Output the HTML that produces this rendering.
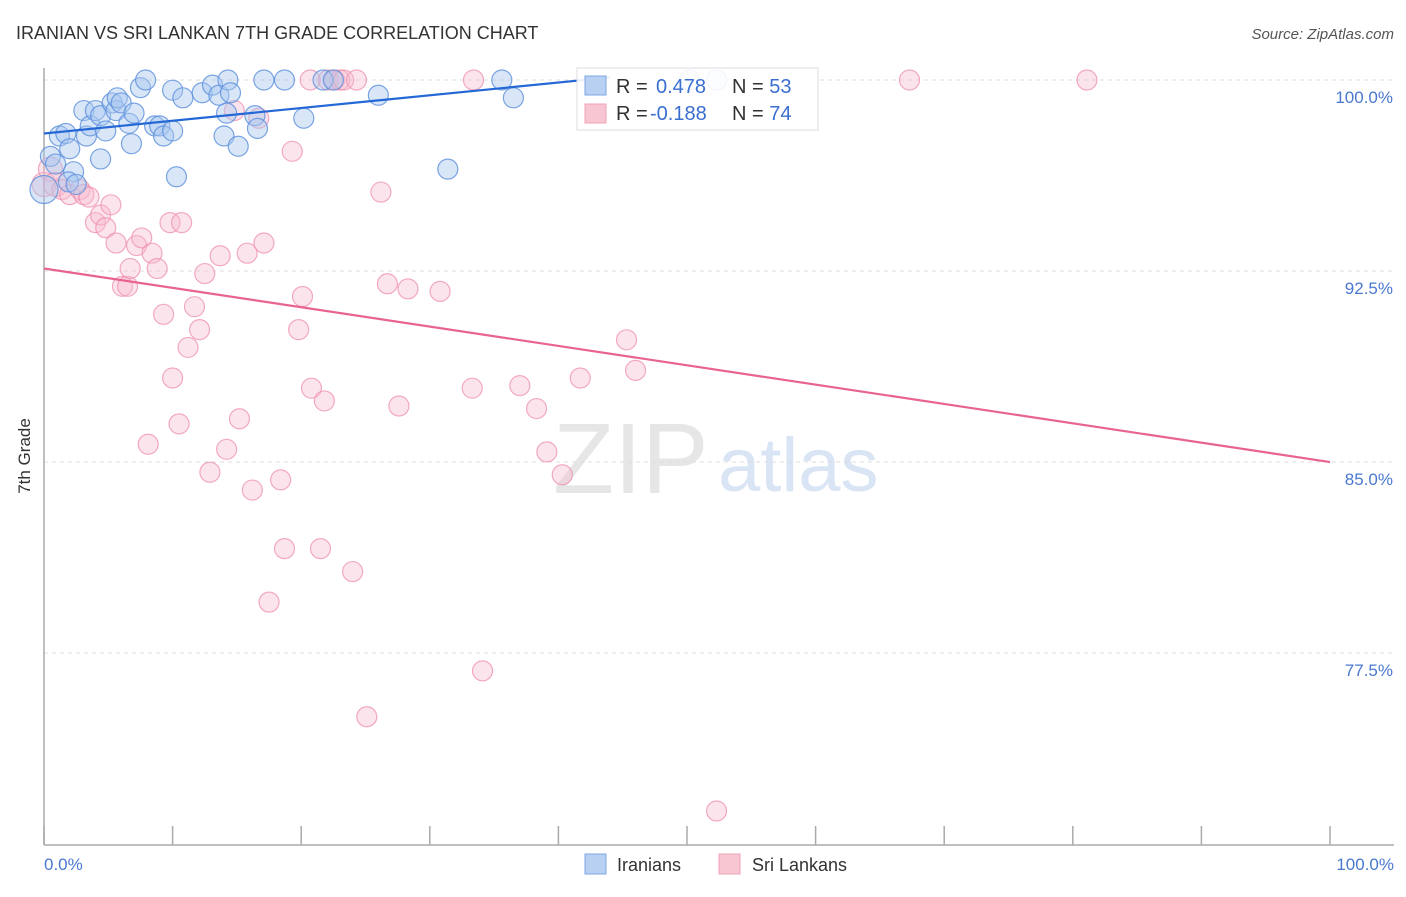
<!DOCTYPE html>
<html><head><meta charset="utf-8">
<style>
body{margin:0;background:#fff;font-family:"Liberation Sans",sans-serif;}
svg text{font-family:"Liberation Sans",sans-serif;}
</style></head>
<body>
<svg id="chart" width="1406" height="892" viewBox="0 0 1406 892" xmlns="http://www.w3.org/2000/svg">
<text x="16" y="39" font-size="18" fill="#333">IRANIAN VS SRI LANKAN 7TH GRADE CORRELATION CHART</text>
<text x="1394" y="39" font-size="15" fill="#555" font-style="italic" text-anchor="end">Source: ZipAtlas.com</text>
<g>
<text x="553" y="493" font-size="100" fill="#e6e6e6" font-family="Liberation Serif,serif">ZIP</text>
<text x="718" y="491" font-size="76" fill="#d9e4f4">atlas</text>
</g>
<g id="grid"></g>
<g id="axes"></g>
<g id="pts"></g>
<g id="trends"></g>
<text x="30" y="456" font-size="17" fill="#333" transform="rotate(-90 30 456)" text-anchor="middle">7th Grade</text>
<text x="44" y="870" font-size="17" fill="#4a78d0">0.0%</text>
<text x="1394" y="870" font-size="17" fill="#4a78d0" text-anchor="end">100.0%</text>
<g>
<rect x="577" y="68" width="241" height="62" fill="#fff" fill-opacity="0.9" stroke="#ddd"/>
<rect x="585" y="76" width="21" height="19" fill="#b8d0f2" stroke="#7da6e3"/>
<rect x="585" y="104" width="21" height="19" fill="#f8c5d3" stroke="#f0a3b9"/>
<text x="616" y="93" font-size="20" fill="#333">R =</text>
<text x="656" y="93" font-size="20" fill="#3a6fd0">0.478</text>
<text x="732" y="93" font-size="20" fill="#333">N = <tspan fill="#3a6fd0">53</tspan></text>
<text x="616" y="120" font-size="20" fill="#333">R =</text>
<text x="650" y="120" font-size="20" fill="#3a6fd0">-0.188</text>
<text x="732" y="120" font-size="20" fill="#333">N = <tspan fill="#3a6fd0">74</tspan></text>
</g>
<g>
<rect x="585" y="854" width="21" height="20" fill="#b8d0f2" stroke="#7da6e3"/>
<text x="617" y="871" font-size="18" fill="#333">Iranians</text>
<rect x="719" y="854" width="21" height="20" fill="#f8c5d3" stroke="#f0a3b9"/>
<text x="752" y="871" font-size="18" fill="#333">Sri Lankans</text>
</g>
</svg>
<script>
const yTicks=[100,92.5,85,77.5];
const yTickLabels=["100.0%","92.5%","85.0%","77.5%"];
const xTicks=[0,10,20,30,40,50,60,70,80,90,100];
const iranX=[0,0.5,0.9,1.2,1.7,2.0,2.3,3.1,3.3,3.6,4.0,4.4,4.4,4.8,5.3,5.6,5.7,6.0,6.6,6.8,7.0,7.5,7.9,8.6,9.0,9.3,10.0,10.0,10.3,10.8,12.3,13.1,13.6,14.0,14.3,14.5,14.2,15.1,16.4,16.6,17.1,18.7,20.2,21.7,22.5,26.0,31.4,35.6,36.5,50.2,52.3,1.9,2.5];
const iranY=[95.7,97.0,96.7,97.8,97.9,97.3,96.4,98.8,97.8,98.2,98.8,98.6,96.9,98.0,99.1,98.8,99.3,99.1,98.3,97.5,98.7,99.7,100,98.2,98.2,97.8,98.0,99.6,96.2,99.3,99.5,99.8,99.4,97.8,100,99.5,98.7,97.4,98.6,98.1,100,100,98.5,100,100,99.4,96.5,100,99.3,100,100,96.0,95.9];
const sriX=[0,0.5,0.9,1.4,2.0,2.8,3.1,3.5,4.0,4.4,4.8,5.2,5.6,6.1,6.5,6.7,7.2,7.6,8.1,8.4,8.8,9.3,9.8,10.0,10.5,10.7,11.2,11.7,12.1,12.5,12.9,13.7,14.2,14.8,15.2,15.8,16.2,16.7,17.1,17.5,18.4,18.7,19.3,19.8,20.1,20.8,21.5,21.8,22.1,22.6,23.0,23.3,24.0,24.3,25.1,26.2,26.7,27.6,28.3,30.8,33.4,33.3,34.1,37.0,38.3,39.1,40.3,41.7,45.3,46.0,52.3,67.3,81.1,20.7];
const sriY=[95.9,96.5,95.9,95.7,95.5,95.7,95.5,95.4,94.4,94.7,94.2,95.1,93.6,91.9,91.9,92.6,93.5,93.8,85.7,93.2,92.6,90.8,94.4,88.3,86.5,94.4,89.5,91.1,90.2,92.4,84.6,93.1,85.5,98.8,86.7,93.2,83.9,98.5,93.6,79.5,84.3,81.6,97.2,90.2,91.5,87.9,81.6,87.4,100,100,100,100,80.7,100,75.0,95.6,92.0,87.2,91.8,91.7,100,87.9,76.8,88.0,87.1,85.4,84.5,88.3,89.8,88.6,71.3,100,100,100];
const iranTrend=[0,97.9,44,100.1];
const sriTrend=[0,92.6,100,85.0];
const NS="http://www.w3.org/2000/svg";
const X=v=>44+v*12.86;
const Y=v=>80+(100-v)*25.47;
function mk(tag,attrs,parent){const e=document.createElementNS(NS,tag);for(const k in attrs)e.setAttribute(k,attrs[k]);parent.appendChild(e);return e;}
const grid=document.getElementById('grid'),axes=document.getElementById('axes'),pts=document.getElementById('pts'),tr=document.getElementById('trends');
yTicks.forEach((t,i)=>{
 const l=mk('line',{x1:44,x2:1394,y1:Y(t),y2:Y(t),stroke:'#ddd','stroke-dasharray':'4,4'},grid);
 
 
 const tx=mk('text',{x:1393,y:Y(t)+23,'font-size':17,fill:'#4a78d0','text-anchor':'end'},grid);
 tx.textContent=yTickLabels[i];
 
 
});
const ya=mk('line',{x1:44,x2:44,y1:68,y2:845,stroke:'#aaa','stroke-width':1.5},axes);


const xa=mk('line',{x1:44,x2:1394,y1:845,y2:845,stroke:'#aaa','stroke-width':1.5},axes);


xTicks.forEach(t=>{
 const l=mk('line',{x1:X(t),x2:X(t),y1:826,y2:845,stroke:'#aaa','stroke-width':1.5},axes);
 
 
});
sriX.forEach((x,i)=>{
 const c=mk('circle',{cx:X(x),cy:Y(sriY[i]),r:x<1?12:10,fill:'#f8bcd0','fill-opacity':0.4,stroke:'#ee8fae','stroke-opacity':0.75,'stroke-width':1.2},pts);
 
 
});
iranX.forEach((x,i)=>{
 const c=mk('circle',{cx:X(x),cy:Y(iranY[i]),r:x<0.3?14:10,fill:'#a9c7ef','fill-opacity':0.45,stroke:'#5b8fdc','stroke-opacity':0.8,'stroke-width':1.2},pts);
 
 
});
const bl=mk('line',{x1:X(iranTrend[0]),y1:Y(iranTrend[1]),x2:X(iranTrend[2]),y2:Y(iranTrend[3]),stroke:'#2468d6','stroke-width':2.2},tr);


const pl=mk('line',{x1:X(sriTrend[0]),y1:Y(sriTrend[1]),x2:X(sriTrend[2]),y2:Y(sriTrend[3]),stroke:'#e8638f','stroke-width':2.2},tr);


</script>
</body></html>
